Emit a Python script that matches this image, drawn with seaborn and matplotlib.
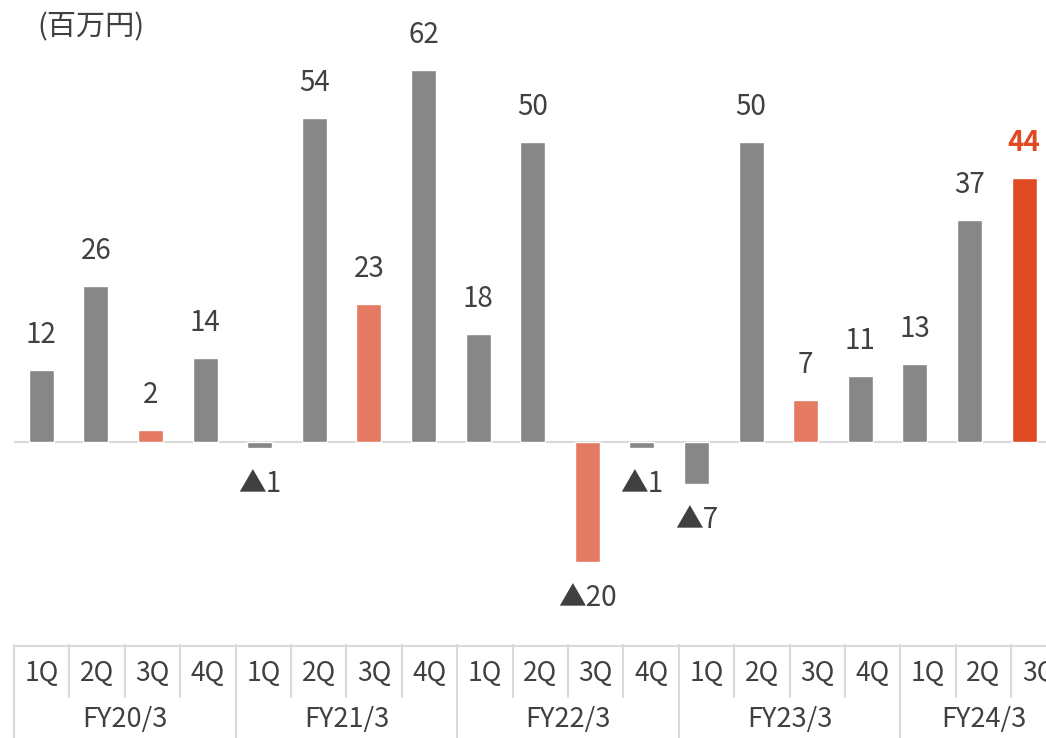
import matplotlib
matplotlib.use("Agg")
import matplotlib.pyplot as plt
import seaborn as sns
import pandas as pd

sns.set_theme(style="white")
plt.rcParams["font.family"] = ["Noto Sans CJK JP", "DejaVu Sans"]

# Quarterly operating profit (millions of yen)
fiscal_years = ["FY20/3", "FY21/3", "FY22/3", "FY23/3", "FY24/3"]
quarters = ["1Q", "2Q", "3Q", "4Q"]
values = [12, 26, 2, 14,
          -1, 54, 23, 62,
          18, 50, -20, -1,
          -7, 50, 7, 11,
          13, 37, 44]
unit_label = "(百万円)"

GRAY = "#878787"
SALMON = "#E57A62"
RED = "#E04A22"
TEXT = "#404040"
LINE = "#D9D9D9"

n = len(values)
period = [f"{fiscal_years[i // 4]} {quarters[i % 4]}" for i in range(n)]
colors = []
for i in range(n):
    if i == n - 1:
        colors.append(RED)
    elif i % 4 == 2:
        colors.append(SALMON)
    else:
        colors.append(GRAY)

df = pd.DataFrame({"period": period, "value": values})

W, H = 1046, 738
fig = plt.figure(figsize=(W / 100, H / 100), dpi=100)

# Geometry in pixels
left_px = 14
slot_px = 54.6
zero_px = 442
px_per_unit = 6.0
ymin, ymax = -30, 70
top_px = zero_px - ymax * px_per_unit
bot_px = zero_px - ymin * px_per_unit
ax = fig.add_axes([left_px / W, (H - bot_px) / H, n * slot_px / W, (bot_px - top_px) / H])

sns.barplot(data=df, x="period", y="value", hue="period", palette=colors,
            legend=False, width=0.46, saturation=1, ax=ax)
ax.set_xlim(-0.5, n - 0.5)
ax.set_ylim(ymin, ymax)
ax.axhline(0, color=LINE, lw=1.5, zorder=0)
for s in ax.spines.values():
    s.set_visible(False)
ax.set_xticks([])
ax.set_yticks([])
ax.set_xlabel("")
ax.set_ylabel("")

# Value labels
for i, v in enumerate(values):
    last = i == n - 1
    if v >= 0:
        txt, off = f"{v}", 25
    else:
        txt, off = f"▲{abs(v)}", -26
    ax.annotate(txt, (i, v), xytext=(0, off), textcoords="offset points",
                ha="center", va="center", fontsize=20,
                color=RED if last else TEXT,
                fontweight="bold" if last else "normal")

fig.text(37 / W, 1 - 27 / H, unit_label, fontsize=21, color=TEXT,
         ha="left", va="center")

# Category table under the chart
tab_top = 645
tab_slot = 55.4
tab = fig.add_axes([left_px / W, 0, n * tab_slot / W, (H - tab_top) / H])
tab.set_xlim(-0.5, n - 0.5)
tab.set_ylim(0, H - tab_top)
tab.axis("off")
th = H - tab_top
mid = th - 52
tab.plot([-0.5, n - 0.5], [th - 1, th - 1], color=LINE, lw=1.5, clip_on=False)
for k in range(n + 1):
    x = k - 0.5
    if k % 4 == 0:
        tab.plot([x, x], [0, th], color=LINE, lw=1.5, clip_on=False)
    else:
        tab.plot([x, x], [mid, th], color=LINE, lw=1.5, clip_on=False)
for i in range(n):
    tab.text(i, th - 28, quarters[i % 4], ha="center", va="center",
             fontsize=19, color=TEXT)
for j, fy in enumerate(fiscal_years):
    first = j * 4
    last = min(first + 3, n - 1)
    tab.text((first + last) / 2, th - 74, fy, ha="center", va="center",
             fontsize=19.5, color=TEXT)

fig.savefig("out.png", dpi=100)
